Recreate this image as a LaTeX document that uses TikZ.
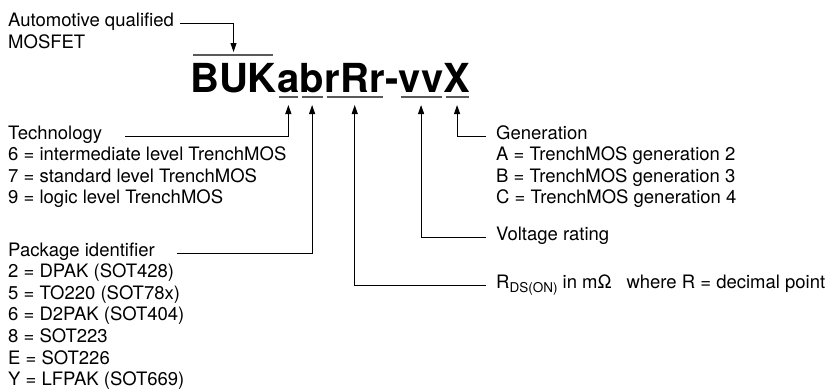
\documentclass[tikz,border=0pt]{standalone}
\usepackage{fontspec}
\setmainfont{TeX Gyre Heros}
\usetikzlibrary{arrows.meta,calc}
\begin{document}
\begin{tikzpicture}[x=1pt,y=-1pt,
  lbl/.style={anchor=base west,inner sep=0pt,font=\fontsize{18.5}{21.6}\selectfont},
  big/.style={anchor=base west,inner sep=0pt,font=\fontsize{40}{44}\selectfont\bfseries},
  conn/.style={line width=1pt,-{Triangle[length=9pt,width=6pt]}},
  bar/.style={line width=1.3pt,black!65}]
\useasboundingbox (0,0) rectangle (835,391);
% top-left label
\node[lbl] (auto1) at (8,26) {Automotive qualified};
\node[lbl] (auto2) at (8,48) {MOSFET};
% type number
\node[big] (buk) at (190,92) {BUK};
\node[big] (ga) at (buk.base east) {a};
\node[big] (gb) at (ga.base east) {b};
\node[big] (gr) at (gb.base east) {rRr};
\node[big] (gd) at (gr.base east) {-};
\node[big] (gv) at (gd.base east) {vv};
\node[big] (gx) at (gv.base east) {X};
\draw[bar] ($(buk.base west)+(3,-37)$) -- ($(buk.base east)+(-4,-37)$);
\foreach \g in {ga,gb,gr,gv,gx}{
  \draw[bar] ($(\g.base west)+(2,5)$) -- ($(\g.base east)+(-2,5)$);
  \coordinate (t\g) at ($(\g.base)+(0,13)$);
}
\coordinate (tbuk) at ($(buk.base)+(0,-40)$);
% left column
\node[lbl] (tech) at (8,139) {Technology};
\node[lbl] (tech1) at (8,160.6) {6 = intermediate level TrenchMOS};
\node[lbl] (tech2) at (8,182.2) {7 = standard level TrenchMOS};
\node[lbl] (tech3) at (8,203.8) {9 = logic level TrenchMOS};
\node[lbl] (pkg) at (8,256) {Package identifier};
\node[lbl] (pkg1) at (8,277.6) {2 = DPAK (SOT428)};
\node[lbl] (pkg2) at (8,299.2) {5 = TO220 (SOT78x)};
\node[lbl] (pkg3) at (8,320.8) {6 = D2PAK (SOT404)};
\node[lbl] (pkg4) at (8,342.4) {8 = SOT223};
\node[lbl] (pkg5) at (8,364) {E = SOT226};
\node[lbl] (pkg6) at (8,385.6) {Y = LFPAK (SOT669)};
% right column
\node[lbl] (gen) at (496,139) {Generation};
\node[lbl] (gen1) at (496,160.6) {A = TrenchMOS generation 2};
\node[lbl] (gen2) at (496,182.2) {B = TrenchMOS generation 3};
\node[lbl] (gen3) at (496,203.8) {C = TrenchMOS generation 4};
\node[lbl] (volt) at (496,240) {Voltage rating};
\node[lbl] (rds) at (496,288) {R\raisebox{-4pt}{\fontsize{13.5}{14}\selectfont DS(ON)} in mΩ\hspace{0.8em}where R = decimal point};
% connectors
\draw[conn] ([xshift=6pt]auto1.mid east) -| (tbuk);
\draw[conn] ([xshift=23pt]tech.mid east) -| (tga);
\draw[conn] ([xshift=22pt]pkg.mid east) -| (tgb);
\draw[conn] ([xshift=-10pt]rds.mid west) -| (tgr);
\draw[conn] ([xshift=-10pt]volt.mid west) -| (tgv);
\draw[conn] ([xshift=-10pt]gen.mid west) -| (tgx);
\end{tikzpicture}
\end{document}
